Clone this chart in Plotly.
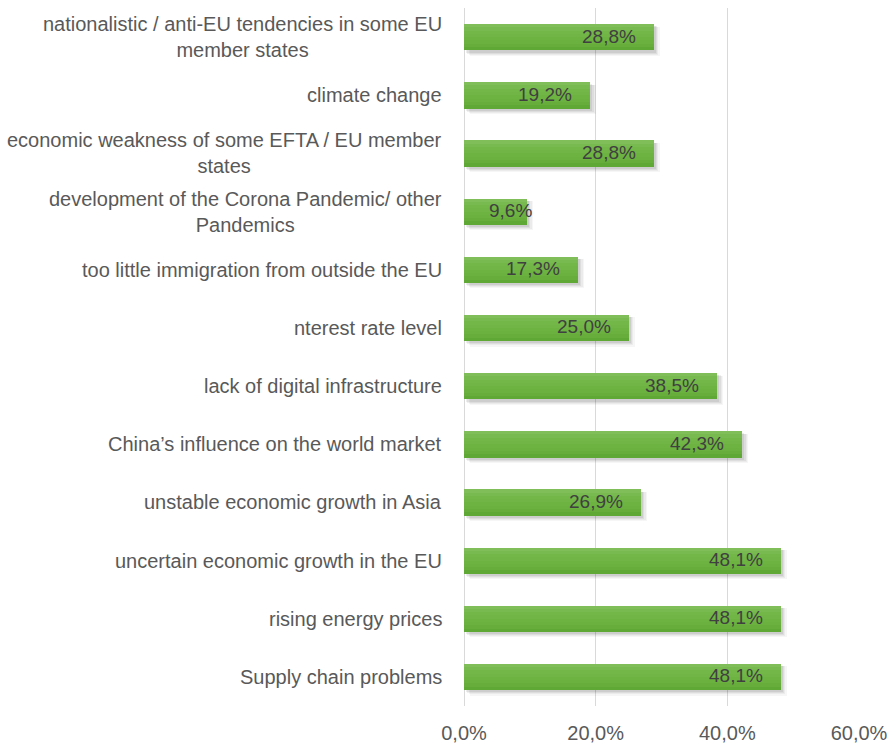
import plotly.graph_objects as go

# Survey results: share of respondents naming each risk
categories = [
    "nationalistic / anti-EU tendencies in some EU<br>member states",
    "climate change",
    "economic weakness of some EFTA / EU member<br>states",
    "development of the Corona Pandemic/ other<br>Pandemics",
    "too little immigration from outside the EU",
    "nterest rate level",
    "lack of digital infrastructure",
    "China\u2019s influence on the world market",
    "unstable economic growth in Asia",
    "uncertain economic growth in the EU",
    "rising energy prices",
    "Supply chain problems",
]
values = [28.8, 19.2, 28.8, 9.6, 17.3, 25.0, 38.5, 42.3, 26.9, 48.1, 48.1, 48.1]
x_ticks = [0, 20, 40, 60]

FONT = "Liberation Sans, Arial, sans-serif"
TEXT_GREY = "#595959"
LABEL_GREY = "#404040"
BAR_W = 0.45

fig = go.Figure()

# soft drop shadow, slightly right and below each bar (stacked translucent layers)
for alpha, base, shift, grow in [
    (0.035, 0.9, 0.07, 0.05),
    (0.045, 0.7, 0.06, 0.03),
    (0.06, 0.5, 0.05, 0.015),
    (0.07, 0.3, 0.04, 0.0),
]:
    fig.add_trace(go.Bar(
        y=categories, x=values, base=base, orientation="h",
        width=BAR_W + grow, offset=-BAR_W / 2 + shift - grow / 2,
        marker=dict(color=f"rgba(0,0,0,{alpha})", line=dict(width=0)),
        hoverinfo="skip", showlegend=False,
    ))

# main bar body with a gentle light-to-dark vertical gradient
bands = [
    "#7fbe58", "#78ba4f", "#73b749", "#70b545",
    "#6db342", "#6ab140", "#66ad3c", "#60a836",
]
n = len(bands)
for k, color in enumerate(bands):
    fig.add_trace(go.Bar(
        y=categories, x=values, orientation="h",
        width=BAR_W / n + 0.004, offset=-BAR_W / 2 + BAR_W * k / n,
        marker=dict(color=color, line=dict(width=0)),
        hoverinfo="skip", showlegend=False,
    ))

annotations = []
# value labels near the end of each bar; very short bars let the label run past the end
for cat, v in zip(categories, values):
    annotations.append(dict(
        x=v, y=cat, xref="x", yref="y", text=f"{v:.1f}%".replace(".", ","),
        showarrow=False, xanchor="center", xshift=-45 if v > 12 else -17, yshift=1,
        font=dict(family=FONT, size=19, color=LABEL_GREY),
    ))
# category labels, each line centred within the label block
for cat in categories:
    annotations.append(dict(
        x=0, y=cat, xref="paper", yref="y", text=cat,
        showarrow=False, xanchor="right", xshift=-20, align="center",
        font=dict(family=FONT, size=20, color=TEXT_GREY),
    ))

fig.update_layout(
    width=888, height=746,
    margin=dict(l=464, r=29, t=8, b=40),
    paper_bgcolor="white", plot_bgcolor="white",
    barmode="overlay", bargap=0,
    annotations=annotations,
    font=dict(family=FONT, size=20, color=TEXT_GREY),
)
fig.update_xaxes(
    range=[0, 60], tickvals=x_ticks, automargin=False,
    ticktext=[f"{t:.1f}%".replace(".", ",") for t in x_ticks],
    showgrid=True, gridcolor="#d9d9d9", gridwidth=1,
    zeroline=True, zerolinecolor="#d9d9d9", zerolinewidth=1,
    ticks="outside", ticklen=9, tickcolor="rgba(0,0,0,0)",
    tickfont=dict(family=FONT, size=20, color=TEXT_GREY),
    showline=False,
)
fig.update_yaxes(
    autorange="reversed", showticklabels=False, showgrid=False,
    zeroline=False, showline=False, automargin=False,
)

fig.write_html("out.html")
